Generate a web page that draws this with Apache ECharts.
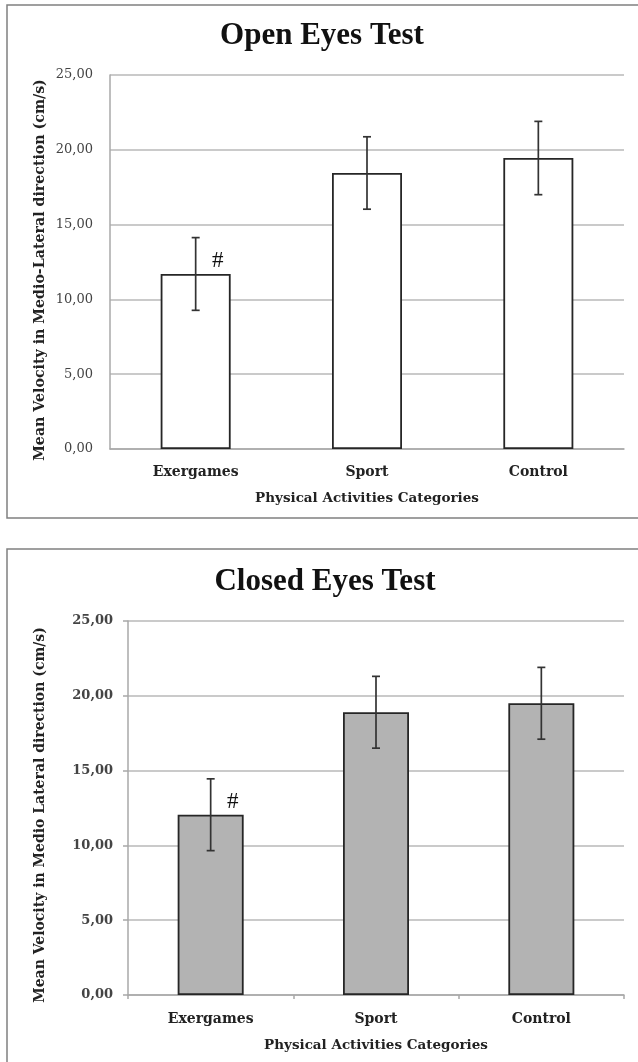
<!DOCTYPE html>
<html><head><meta charset="utf-8">
<script src="https://cdn.jsdelivr.net/npm/echarts@6/dist/echarts.min.js"></script>
<style>html,body{margin:0;padding:0;background:#fff}#c{width:638px;height:1062px}</style>
</head><body><div id="c"></div>
<script>
// ---- data ----
const categories = ['Exergames', 'Sport', 'Control'];
const openMean = [11.7, 18.45, 19.45];
const openErr = [2.43, 2.42, 2.45];
const closedMean = [12.05, 18.9, 19.5];
const closedErr = [2.4, 2.4, 2.4];
const hashMarks = ['#', '', ''];
const yMin = 0, yMax = 25, yInterval = 5;
const titles = ['Open Eyes Test', 'Closed Eyes Test'];
const xTitle = 'Physical Activities Categories';
const yTitles = ['Mean Velocity in Medio-Lateral direction (cm/s)', 'Mean Velocity in Medio Lateral direction (cm/s)'];

// ---- chart ----
const chart = echarts.init(document.getElementById('c'), null, {renderer: 'canvas'});
const grids = [
  {left: 110, top: 75, width: 514, height: 374},
  {left: 128, top: 621, width: 496, height: 374}
];
const fmt = v => v.toFixed(2).replace('.', ',');
const SERIF = '"DejaVu Serif", serif';
const TSERIF = '"Liberation Serif", serif';

function errRender(params, api) {
  const i = api.value(0), m = api.value(1), e = api.value(2);
  const top = api.coord([i, m + e]), bot = api.coord([i, m - e]);
  const x = top[0], cap = 4;
  const st = {stroke: '#333', lineWidth: 1.7};
  const children = [
    {type: 'line', shape: {x1: x, y1: top[1], x2: x, y2: bot[1]}, style: st},
    {type: 'line', shape: {x1: x - cap, y1: top[1], x2: x + cap, y2: top[1]}, style: st},
    {type: 'line', shape: {x1: x - cap, y1: bot[1], x2: x + cap, y2: bot[1]}, style: st}
  ];
  const mark = hashMarks[params.dataIndex];
  if (mark) {
    const p = api.coord([i, m]);
    children.push({type: 'text', x: p[0] + 22, y: p[1] - 13,
      style: {text: mark, font: '23px ' + TSERIF, fill: '#111', align: 'center', verticalAlign: 'middle'}});
  }
  return {type: 'group', children};
}

const xAxes = [0, 1].map(k => ({
  type: 'category', gridIndex: k, data: categories,
  axisLine: {show: true, lineStyle: {color: '#a8a8a8', width: 1.5}},
  axisTick: {show: k === 1, length: 4, lineStyle: {color: '#a8a8a8', width: 1.5}},
  axisLabel: {fontFamily: SERIF, fontWeight: 'bold', fontSize: 14, color: '#222', margin: k === 0 ? 16 : 17},
  splitLine: {show: false}
}));
const yAxes = [0, 1].map(k => ({
  type: 'value', gridIndex: k, min: yMin, max: yMax, interval: yInterval,
  axisLine: {show: true, lineStyle: {color: '#a8a8a8', width: 1.5}},
  axisTick: {show: k === 1, length: 5, lineStyle: {color: '#a8a8a8', width: 1.5}},
  axisLabel: {formatter: fmt, fontFamily: SERIF, fontWeight: k === 1 ? 'bold' : 'normal',
    fontSize: 13, color: '#444', margin: k === 0 ? 17 : 15},
  splitLine: {show: true, lineStyle: {color: '#b8b8b8', width: 1.5}}
}));

const means = [openMean, closedMean];
const errs = [openErr, closedErr];
const series = [];
[0, 1].forEach(k => {
  series.push({
    type: 'bar', xAxisIndex: k, yAxisIndex: k, data: means[k], barWidth: k === 0 ? 70 : 66,
    itemStyle: {color: k === 0 ? '#ffffff' : '#b3b3b3', borderColor: '#262626', borderWidth: 1.8},
    silent: true, z: 2
  });
  series.push({
    type: 'custom', xAxisIndex: k, yAxisIndex: k, renderItem: errRender, z: 5, silent: true,
    data: means[k].map((m, i) => [i, m, errs[k][i]])
  });
});

const graphic = [
  {type: 'rect', shape: {x: 7, y: 5, width: 640, height: 513}, style: {fill: 'none', stroke: '#808080', lineWidth: 1.5}, z: -1},
  {type: 'rect', shape: {x: 7, y: 549, width: 640, height: 530}, style: {fill: 'none', stroke: '#808080', lineWidth: 1.5}, z: -1},
  {type: 'text', x: 322, y: 36, style: {text: titles[0], font: 'bold 31px ' + TSERIF, fill: '#111', align: 'center', verticalAlign: 'middle'}},
  {type: 'text', x: 325, y: 582, style: {text: titles[1], font: 'bold 31px ' + TSERIF, fill: '#111', align: 'center', verticalAlign: 'middle'}},
  {type: 'text', x: 367, y: 498, style: {text: xTitle, font: 'bold 13.5px ' + SERIF, fill: '#222', align: 'center', verticalAlign: 'middle'}},
  {type: 'text', x: 376, y: 1045, style: {text: xTitle, font: 'bold 13.5px ' + SERIF, fill: '#222', align: 'center', verticalAlign: 'middle'}},
  {type: 'text', x: 40, y: 270, rotation: Math.PI / 2, style: {text: yTitles[0], font: 'bold 14.2px ' + SERIF, fill: '#222', align: 'center', verticalAlign: 'middle'}},
  {type: 'text', x: 40, y: 815, rotation: Math.PI / 2, style: {text: yTitles[1], font: 'bold 14px ' + SERIF, fill: '#222', align: 'center', verticalAlign: 'middle'}}
];

chart.setOption({
  animation: false,
  backgroundColor: '#ffffff',
  grid: grids,
  xAxis: xAxes,
  yAxis: yAxes,
  series: series,
  graphic: graphic
});
</script></body></html>
